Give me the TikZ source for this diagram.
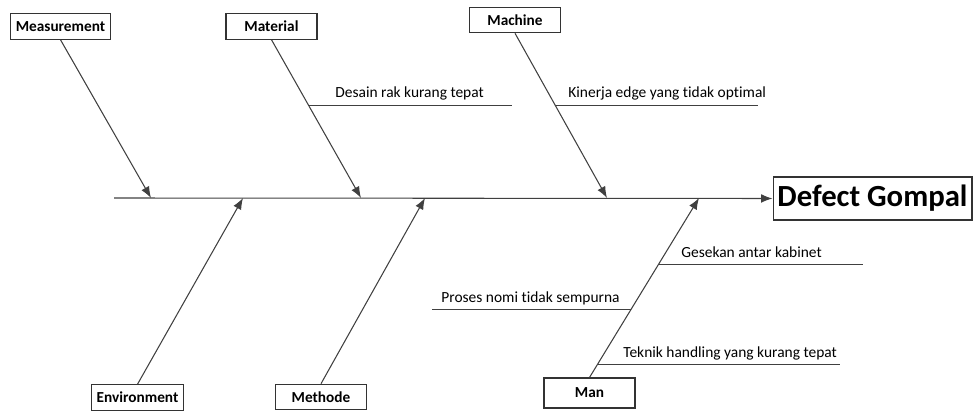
\documentclass[tikz,border=0pt]{standalone}
\usepackage{fontspec}
\setmainfont{Carlito}[RawFeature={-liga}]
\usetikzlibrary{arrows.meta,calc}

\begin{document}
\begin{tikzpicture}[x=0.02cm,y=-0.02cm]
   \tikzset{
     cause/.style  = { draw            = black!80,
                       line width      = 0.6pt,
                       font            = \fontsize{8.7}{10}\selectfont\bfseries,
                       minimum width   = 1.82cm,
                       minimum height  = 0.51cm,
                       inner xsep      = 0.1cm,
                       inner ysep      = 0pt },
     effect/.style = { draw            = black!80,
                       line width      = 0.6pt,
                       font            = \fontsize{17.5}{20}\selectfont\bfseries,
                       minimum width   = 3.98cm,
                       minimum height  = 0.86cm,
                       inner sep       = 0pt },
     bone/.style   = { draw = black!75, line width = 0.6pt },
     rib/.style    = { bone, -{Latex[length=6.5pt,width=5pt]} },
     reason/.style = { font       = \fontsize{8.8}{10}\selectfont,
                       anchor     = base west,
                       inner sep  = 0pt },
  }

  \useasboundingbox (0,0) rectangle (973,411);

  % head and spine
  \node [effect] (Effect) at (872.5,198.5) {Defect Gompal};
  \coordinate (Tail) at (114,198);
  \draw [rib] (Tail) -- (Effect.west);

  % main causes
  \node [cause] (Measurement) at (60.5,26.5)  {Measurement};
  \node [cause] (Material)    at (271.5,26.5) {Material};
  \node [cause] (Machine)     at (515,20)     {Machine};
  \node [cause] (Environment) at (137.5,397.5) {Environment};
  \node [cause] (Methode)     at (321,397)    {Methode};
  \node [cause, minimum height = 0.6cm] (Man) at (589.5,393) {Man};

  \coordinate (MeasTip) at (151,198);
  \coordinate (MatTip)  at (361,198);
  \coordinate (MachTip) at (607,198);
  \coordinate (EnvTip)  at (243,198);
  \coordinate (MetTip)  at (425,198);
  \coordinate (ManTip)  at (699,198);

  \draw [rib] (Measurement.south) -- (MeasTip);
  \draw [rib] (Material.south)    -- (MatTip);
  \draw [rib] (Machine.south)     -- (MachTip);
  \draw [rib] (Environment.north) -- (EnvTip);
  \draw [rib] (Methode.north)     -- (MetTip);
  \draw [rib] (Man.north)         -- (ManTip);

  % sub causes
  \coordinate (DesainJoint)  at ($(Material.south)!0.418!(MatTip)$);
  \coordinate (DesainEnd)    at (512,105);
  \draw [bone] (DesainJoint) -- (DesainJoint -| DesainEnd);
  \node [reason] (Desain) at (335,98) {Desain rak kurang tepat};

  \coordinate (KinerjaJoint) at ($(Machine.south)!0.439!(MachTip)$);
  \coordinate (KinerjaEnd)   at (758,105);
  \draw [bone] (KinerjaJoint) -- (KinerjaJoint -| KinerjaEnd);
  \node [reason] (Kinerja) at (568,98) {Kinerja edge yang tidak optimal};

  \coordinate (GesekanJoint) at ($(Man.north)!0.631!(ManTip)$);
  \coordinate (GesekanEnd)   at (863,265);
  \draw [bone] (GesekanJoint) -- (GesekanJoint -| GesekanEnd);
  \node [reason] (Gesekan) at (681,258) {Gesekan antar kabinet};

  \coordinate (ProsesJoint)  at ($(Man.north)!0.38!(ManTip)$);
  \coordinate (ProsesEnd)    at (432,310);
  \draw [bone] (ProsesJoint) -- (ProsesJoint -| ProsesEnd);
  \node [reason] (Proses) at (441,303) {Proses nomi tidak sempurna};

  \coordinate (TeknikJoint)  at ($(Man.north)!0.07!(ManTip)$);
  \coordinate (TeknikEnd)    at (840,366);
  \draw [bone] (TeknikJoint) -- (TeknikJoint -| TeknikEnd);
  \node [reason] (Teknik) at (623,358) {Teknik handling yang kurang tepat};

\end{tikzpicture}
\end{document}
